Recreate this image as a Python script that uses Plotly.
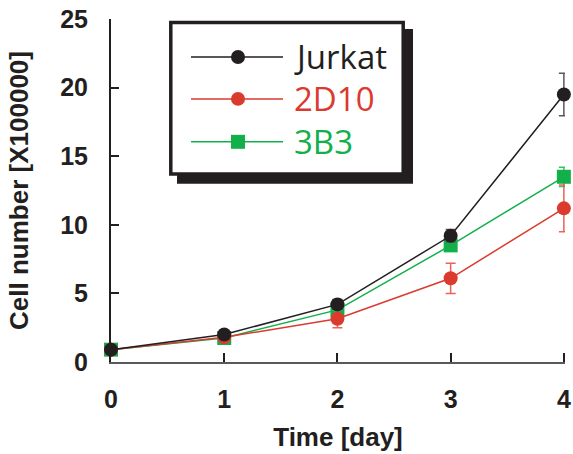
import plotly.graph_objects as go

days = [0, 1, 2, 3, 4]
jurkat = [0.9, 2.0, 4.2, 9.2, 19.5]
jurkat_err = [0.1, 0.15, 0.35, 0.45, 1.55]
d2d10 = [0.9, 1.8, 3.15, 6.1, 11.2]
d2d10_err = [0.1, 0.15, 0.65, 1.1, 1.7]
b3b3 = [0.9, 1.75, 3.8, 8.5, 13.5]
b3b3_err = [0.1, 0.1, 0.3, 0.4, 0.7]

names = ["Jurkat", "2D10", "3B3"]
line_colors = ["#231f20", "#db3a2f", "#12b04b"]
err_colors = ["#58595b", "#e8635a", "#3cc06a"]
symbols = ["circle", "circle", "square"]

W, H = 573, 454
L, R, T, B = 111, 8, 19, 91.5
PW, PH = W - L - R, H - T - B

def px(x):
    return (x - L) / PW

def py(y):
    return (H - B - y) / PH

fig = go.Figure()
series = [(jurkat, jurkat_err), (d2d10, d2d10_err), (b3b3, b3b3_err)]
order = [2, 1, 0]
for i in order:
    vals, errs = series[i]
    fig.add_trace(go.Scatter(
        x=days, y=vals, mode="lines+markers", name=names[i],
        line=dict(color=line_colors[i], width=1.5),
        marker=dict(symbol=symbols[i], size=14, color=line_colors[i]),
        error_y=dict(type="data", array=errs, visible=True,
                     color=err_colors[i], thickness=1.5, width=5),
        cliponaxis=False, showlegend=False,
    ))

shapes = []
# legend shadow and box
shapes.append(dict(type="rect", xref="paper", yref="paper",
                   x0=px(177), x1=px(413), y0=py(184), y1=py(29),
                   fillcolor="#231f20", line=dict(width=0), layer="above"))
shapes.append(dict(type="rect", xref="paper", yref="paper",
                   x0=px(170.8), x1=px(403.2), y0=py(174.2), y1=py(22.5),
                   fillcolor="white", line=dict(color="#231f20", width=3.5), layer="above"))
annotations = []
rows = [57, 99, 142]
for i in range(3):
    yy = rows[i]
    shapes.append(dict(type="line", xref="paper", yref="paper",
                       x0=px(191), x1=px(283), y0=py(yy), y1=py(yy),
                       line=dict(color=line_colors[i], width=1.5), layer="above"))
    r = 7
    if symbols[i] == "circle":
        shapes.append(dict(type="circle", xref="paper", yref="paper",
                           x0=px(238 - r), x1=px(238 + r), y0=py(yy + r), y1=py(yy - r),
                           fillcolor=line_colors[i], line=dict(width=0), layer="above"))
    else:
        shapes.append(dict(type="rect", xref="paper", yref="paper",
                           x0=px(238 - r), x1=px(238 + r), y0=py(yy + r), y1=py(yy - r),
                           fillcolor=line_colors[i], line=dict(width=0), layer="above"))
    annotations.append(dict(text=names[i], xref="paper", yref="paper",
                            x=px(292), y=py(yy - 0.5), xanchor="left", yanchor="middle",
                            showarrow=False,
                            font=dict(family="Open Sans, Liberation Sans, sans-serif",
                                      size=33, color=line_colors[i])))

fig.update_layout(
    width=W, height=H,
    margin=dict(l=L, r=R, t=T, b=B, pad=0),
    paper_bgcolor="white", plot_bgcolor="white",
    shapes=shapes, annotations=annotations,
    font=dict(family="Liberation Sans, Arial, sans-serif", color="#231f20"),
)
fig.update_xaxes(
    range=[0, 4.01], tickvals=days, ticktext=[f"<b>{d}</b>" for d in days],
    showgrid=False, zeroline=False, showline=True, linecolor="#58595b", linewidth=2,
    ticks="inside", ticklen=9, tickwidth=1.5, tickcolor="#231f20",
    tickfont=dict(size=25, color="#231f20"), ticklabelstandoff=14,
    automargin=False,
    title=dict(text="<b>Time [day]</b>", font=dict(size=26, color="#231f20"), standoff=16),
)
ytick_vals = [0, 5, 10, 15, 20, 25]
fig.update_yaxes(
    range=[0, 25], tickvals=ytick_vals, ticktext=[f"<b>{v}</b>" for v in ytick_vals],
    showgrid=False, zeroline=False, showline=True, linecolor="#231f20", linewidth=2,
    ticks="inside", ticklen=8, tickwidth=1.5, tickcolor="#231f20",
    tickfont=dict(size=25, color="#231f20"), ticklabelstandoff=16,
    automargin=False,
    title=dict(text="<b>Cell number [X100000]</b>", font=dict(size=26, color="#231f20"), standoff=24),
)
fig.write_html("out.html")
